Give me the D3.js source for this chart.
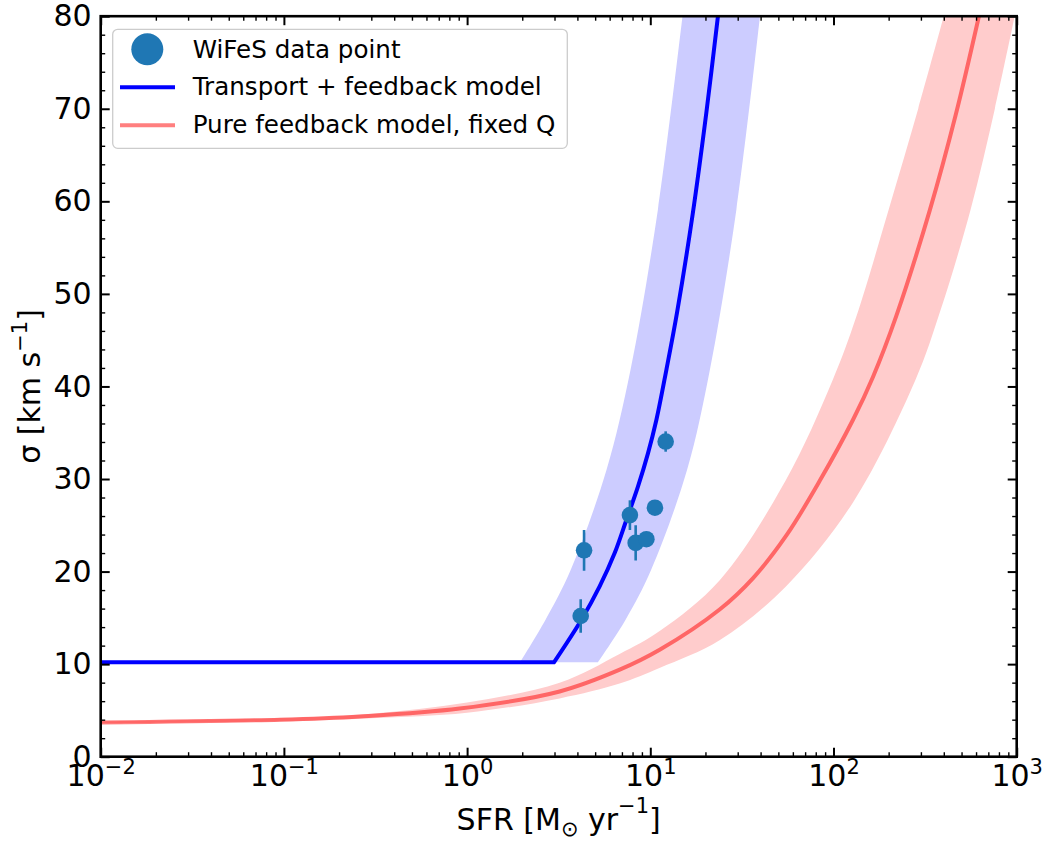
<!DOCTYPE html>
<html>
<head>
<meta charset="utf-8">
<script src="https://cdn.jsdelivr.net/npm/d3@7"></script>
<style>
  body { margin: 0; background: #fff; }
  svg { display: block; }
  text { font-family: "DejaVu Sans", sans-serif; fill: #000; }
</style>
</head>
<body>
<svg id="chart" width="1051" height="841"></svg>
<script>
// WiFeS measurements: star formation rate [Msun/yr], velocity dispersion [km/s], 1-sigma error
const pointSFR   = [4.17, 4.35, 7.74, 8.32, 9.52, 10.6, 12.13];
const pointSigma = [15.2, 22.3, 26.1, 23.1, 23.5, 26.9, 34.05];
const pointErr   = [1.8, 2.2, 1.6, 1.9, 0.5, 0.5, 1.1];

// Transport + feedback model (floor, then rising branch)
const transportSFR   = [0.01, 2.98, 4.21, 5.29, 6.39, 7.41, 8.57, 9.72, 10.8, 12.24, 14.0, 17.0, 20.2, 23.4];
const transportSigma = [10.2, 10.2, 14.8, 18.4, 22.0, 25.6, 29.2, 32.8, 36.4, 41.8, 48.0, 58.5, 69.5, 80];

// Transport + feedback uncertainty band: SFR range at each sigma
const transportBandSigma   = [10.2, 14.8, 20.2, 31.0, 41.8, 59.1, 80];
const transportBandLowSFR  = [1.945, 2.68, 3.68, 5.77, 7.8, 11.0, 14.99];
const transportBandHighSFR = [5.18, 7.33, 10.11, 15.88, 21.15, 29.5, 39.7];

// Pure feedback model with fixed Q
const feedbackSFR   = [0.01, 0.095, 0.26, 0.91, 3.2, 6.81, 11.25, 23.9, 36.4, 55.3, 84.1, 127.8, 164, 220, 335, 464, 622];
const feedbackSigma = [3.7, 4.0, 4.35, 5.2, 7.05, 9.4, 11.55, 15.9, 19.3, 23.9, 29.8, 36.4, 41.0, 47.6, 59.0, 69.3, 80];

// Pure feedback uncertainty band edges
const feedbackUpperSFR   = [0.01, 0.1, 0.3, 1.0, 3.2, 6.8, 11.3, 24, 55, 99, 133, 200, 290, 400];
const feedbackUpperSigma = [3.8, 4.2, 4.65, 5.85, 8.0, 11.1, 13.6, 19.1, 29.9, 40.7, 47.5, 59.1, 70, 80];
const feedbackLowerSFR   = [0.01, 0.1, 0.3, 1.0, 3.2, 6.8, 11.3, 24, 55, 128, 280, 385, 560, 760, 975];
const feedbackLowerSigma = [3.6, 3.82, 4.15, 4.75, 6.3, 7.9, 9.6, 12.6, 18.4, 27.5, 40.7, 48.3, 59.1, 70, 80];

// Axis ticks
const xMajorTicks = [1e-2, 1e-1, 1e0, 1e1, 1e2, 1e3];
const xTickExponents = ["\u22122", "\u22121", "0", "1", "2", "3"];
const yMajorTicks = [0, 10, 20, 30, 40, 50, 60, 70, 80];

const legendLabels = ["WiFeS data point", "Transport + feedback model", "Pure feedback model, fixed Q"];

// ---------------------------------------------------------------
const svg = d3.select("#chart");
const L = 100.7, R = 1016.7, T = 16.2, B = 756.7;

const x = d3.scaleLog().domain([1e-2, 1e3]).range([L, R]);
const y = d3.scaleLinear().domain([0, 80]).range([B, T]);

const xMinorTicks = [];
for (let e = -2; e < 3; e++) for (let m = 2; m <= 9; m++) xMinorTicks.push(m * Math.pow(10, e));
const yMinorTicks = d3.range(0, 81, 2).filter(v => v % 10 !== 0);

svg.append("defs").append("clipPath").attr("id", "plotclip")
  .append("rect").attr("x", L).attr("y", T).attr("width", R - L).attr("height", B - T);

const plot = svg.append("g").attr("clip-path", "url(#plotclip)");

const smooth = d3.curveCatmullRom.alpha(0.5);
const lineSmooth = d3.line().x(d => x(d[0])).y(d => y(d[1])).curve(smooth);
const lineLin    = d3.line().x(d => x(d[0])).y(d => y(d[1]));

// Bands
const blueLeft  = transportBandSigma.map((s, i) => [transportBandLowSFR[i], s]);
const blueRight = transportBandSigma.map((s, i) => [transportBandHighSFR[i], s]).reverse();
plot.append("path")
  .attr("d", lineSmooth(blueLeft) + lineSmooth(blueRight).replace(/^M/, "L") + "Z")
  .attr("fill", "rgb(204,204,255)");

const redUpper = feedbackUpperSFR.map((s, i) => [s, feedbackUpperSigma[i]]);
const redLower = feedbackLowerSFR.map((s, i) => [s, feedbackLowerSigma[i]]).reverse();
plot.append("path")
  .attr("d", lineSmooth(redUpper) + lineSmooth(redLower).replace(/^M/, "L") + "Z")
  .attr("fill", "rgb(255,204,204)");

// Model curves
const redPts = feedbackSFR.map((s, i) => [s, feedbackSigma[i]]);
plot.append("path").attr("d", lineSmooth(redPts))
  .attr("fill", "none").attr("stroke", "red").attr("stroke-opacity", 0.5)
  .attr("stroke-width", 4);

const bluePts = transportSFR.map((s, i) => [s, transportSigma[i]]);
plot.append("path")
  .attr("d", lineLin(bluePts.slice(0, 2)) + lineSmooth(bluePts.slice(1)).replace(/^M/, "L"))
  .attr("fill", "none").attr("stroke", "#0000ff").attr("stroke-width", 4)
  .attr("stroke-linejoin", "round");

// Data points with error bars
const pts = plot.append("g");
pts.selectAll("line").data(pointSFR).join("line")
  .attr("x1", d => x(d)).attr("x2", d => x(d))
  .attr("y1", (d, i) => y(pointSigma[i] - pointErr[i]))
  .attr("y2", (d, i) => y(pointSigma[i] + pointErr[i]))
  .attr("stroke", "#1f77b4").attr("stroke-width", 2.6);
pts.selectAll("circle").data(pointSFR).join("circle")
  .attr("cx", d => x(d)).attr("cy", (d, i) => y(pointSigma[i]))
  .attr("r", 8.3).attr("fill", "#1f77b4");

// Axes with inward ticks on all four sides
function styleAxis(g, w) {
  g.select(".domain").remove();
  g.selectAll(".tick line").attr("stroke", "#000").attr("stroke-width", w);
}
const fontSize = 30;

const bottomAx = svg.append("g").attr("transform", `translate(0,${B})`)
  .call(d3.axisBottom(x).tickValues(xMajorTicks).tickSizeInner(-9).tickSizeOuter(0).tickPadding(8).tickFormat(() => ""))
  .call(g => styleAxis(g, 2));
bottomAx.selectAll(".tick text").each(function (d, i) {
  const t = d3.select(this).attr("font-size", fontSize).text("10");
  t.append("tspan").attr("dy", -11.6).attr("font-size", 21).text(xTickExponents[i]);
});
svg.append("g").attr("transform", `translate(0,${B})`)
  .call(d3.axisBottom(x).tickValues(xMinorTicks).tickSizeInner(-4.5).tickSizeOuter(0).tickFormat(() => ""))
  .call(g => styleAxis(g, 1.4));
svg.append("g").attr("transform", `translate(0,${T})`)
  .call(d3.axisTop(x).tickValues(xMajorTicks).tickSizeInner(-9).tickSizeOuter(0).tickFormat(() => ""))
  .call(g => styleAxis(g, 2));
svg.append("g").attr("transform", `translate(0,${T})`)
  .call(d3.axisTop(x).tickValues(xMinorTicks).tickSizeInner(-4.5).tickSizeOuter(0).tickFormat(() => ""))
  .call(g => styleAxis(g, 1.4));

const leftAx = svg.append("g").attr("transform", `translate(${L},0)`)
  .call(d3.axisLeft(y).tickValues(yMajorTicks).tickSizeInner(-9).tickSizeOuter(0).tickPadding(9).tickFormat(d3.format("d")))
  .call(g => styleAxis(g, 2));
leftAx.selectAll(".tick text").attr("font-size", fontSize);
svg.append("g").attr("transform", `translate(${L},0)`)
  .call(d3.axisLeft(y).tickValues(yMinorTicks).tickSizeInner(-4.5).tickSizeOuter(0).tickFormat(() => ""))
  .call(g => styleAxis(g, 1.4));
svg.append("g").attr("transform", `translate(${R},0)`)
  .call(d3.axisRight(y).tickValues(yMajorTicks).tickSizeInner(-9).tickSizeOuter(0).tickFormat(() => ""))
  .call(g => styleAxis(g, 2));
svg.append("g").attr("transform", `translate(${R},0)`)
  .call(d3.axisRight(y).tickValues(yMinorTicks).tickSizeInner(-4.5).tickSizeOuter(0).tickFormat(() => ""))
  .call(g => styleAxis(g, 1.4));
svg.selectAll(".tick text").attr("font-family", "DejaVu Sans").attr("fill", "#000");

// Frame
svg.append("rect").attr("x", L).attr("y", T).attr("width", R - L).attr("height", B - T)
  .attr("fill", "none").attr("stroke", "#000").attr("stroke-width", 2.6);

// Axis labels
const xl = svg.append("text").attr("x", (L + R) / 2).attr("y", 830)
  .attr("text-anchor", "middle").attr("font-size", fontSize);
xl.append("tspan").text("SFR [M");
xl.append("tspan").attr("dy", 6).attr("font-size", 21).text("\u2299");
xl.append("tspan").attr("dy", -6).text(" yr");
xl.append("tspan").attr("dy", -17).attr("font-size", 21).text("\u22121");
xl.append("tspan").attr("dy", 17).text("]");

const yl = svg.append("text").attr("transform", `translate(40,${(T + B) / 2}) rotate(-90)`)
  .attr("text-anchor", "middle").attr("font-size", fontSize);
yl.append("tspan").text("\u03c3 [km s");
yl.append("tspan").attr("dy", -13).attr("font-size", 21).text("\u22121");
yl.append("tspan").attr("dy", 13).text("]");

// Legend
const lg = svg.append("g");
lg.append("rect").attr("x", 112.7).attr("y", 29.3).attr("width", 454.6).attr("height", 119)
  .attr("rx", 5).attr("fill", "#fff").attr("fill-opacity", 0.8)
  .attr("stroke", "#cccccc").attr("stroke-width", 1.3);
lg.append("circle").attr("cx", 147.3).attr("cy", 49.3).attr("r", 16).attr("fill", "#1f77b4");
lg.append("line").attr("x1", 120).attr("x2", 175).attr("y1", 87.3).attr("y2", 87.3)
  .attr("stroke", "#0000ff").attr("stroke-width", 4);
lg.append("line").attr("x1", 120).attr("x2", 175).attr("y1", 125.3).attr("y2", 125.3)
  .attr("stroke", "red").attr("stroke-opacity", 0.5).attr("stroke-width", 4);
const rowY = [58.3, 95.3, 133];
legendLabels.forEach((txt, i) => {
  lg.append("text").attr("x", 192.7).attr("y", rowY[i]).attr("font-size", 24.6).text(txt);
});
</script>
</body>
</html>
